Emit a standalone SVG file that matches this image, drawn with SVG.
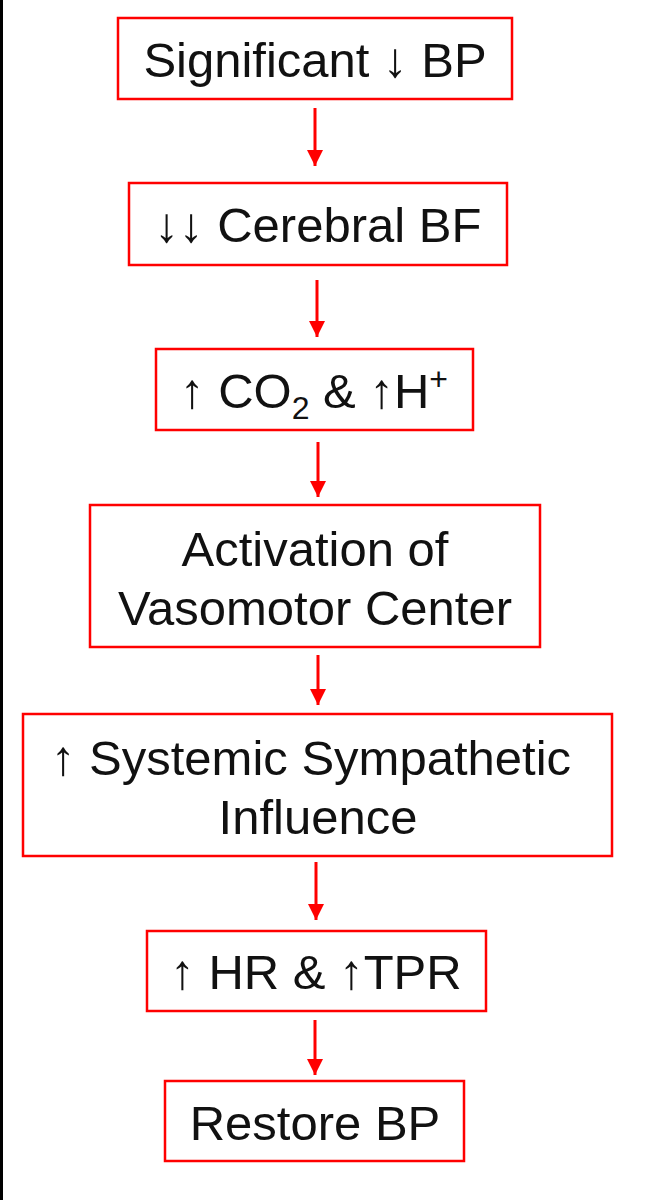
<svg xmlns="http://www.w3.org/2000/svg" width="652" height="1200" viewBox="0 0 652 1200">
<style>
.b{fill:#fff;stroke:#f00;stroke-width:2.5}
text{font-family:"Liberation Sans","DejaVu Sans",sans-serif;font-size:49px;fill:#111;text-anchor:middle}
.c{stroke:#f00;stroke-width:3;fill:none;marker-end:url(#a)}
</style>
<defs><marker id="a" markerUnits="userSpaceOnUse" markerWidth="18" markerHeight="18" refX="16" refY="8" orient="auto"><path d="M0,0 L16,8 L0,16 z" fill="#f00"/></marker></defs>
<rect width="652" height="1200" fill="#fff"/>
<rect x="0" y="0" width="3" height="1200" fill="#000"/>
<g id="n1"><rect class="b" x="118" y="18" width="394" height="81"/><text x="315" y="77">Significant ↓ BP</text></g>
<g id="n2"><rect class="b" x="129" y="183" width="378" height="82"/><text x="318" y="242">↓↓ Cerebral BF</text></g>
<g id="n3"><rect class="b" x="156" y="349" width="317" height="81"/><text x="314" y="408">↑ CO<tspan font-size="32" dy="11">2</tspan><tspan dy="-11"> &amp; ↑H</tspan><tspan font-size="32" dy="-18">+</tspan></text></g>
<g id="n4"><rect class="b" x="90" y="505" width="450" height="142"/><text x="315" y="566">Activation of</text><text x="315" y="625">Vasomotor Center</text></g>
<g id="n5"><rect class="b" x="23" y="714" width="589" height="142"/><text x="311" y="775">↑ Systemic Sympathetic</text><text x="318" y="834">Influence</text></g>
<g id="n6"><rect class="b" x="147" y="931" width="339" height="80"/><text x="316" y="989">↑ HR &amp; ↑TPR</text></g>
<g id="n7"><rect class="b" x="165" y="1081" width="299" height="80"/><text x="315" y="1140">Restore BP</text></g>
<g id="edges">
<path class="c" d="M315,108 V166"/>
<path class="c" d="M317,280 V337"/>
<path class="c" d="M318,442 V497"/>
<path class="c" d="M318,655 V705"/>
<path class="c" d="M316,862 V920"/>
<path class="c" d="M315,1020 V1075"/>
</g>
</svg>
